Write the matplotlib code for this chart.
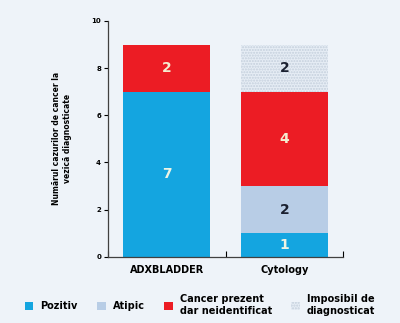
import matplotlib.pyplot as plt
import numpy as np
from matplotlib.patches import Patch

# Data
categories = ['ADXBLADDER', 'Cytology']
series_names = ['Pozitiv', 'Atipic', 'Cancer prezent\ndar neidentificat', 'Imposibil de\ndiagnosticat']
pozitiv = [7, 1]
atipic = [0, 2]
cancer = [2, 4]
imposibil = [0, 2]

colors = ['#14a5e0', '#b8cde6', '#ec1c24', '#e6edf5']
label_colors = ['#eef4e4', '#1a2030', '#f4ecd0', '#1a2030']
bg = '#eef3f9'

plt.rcParams['font.family'] = ['DejaVu Sans']

fig = plt.figure(figsize=(4.0, 3.23), dpi=100, facecolor=bg)
ax = fig.add_axes([0.27, 0.205, 0.588, 0.73])
ax.set_facecolor(bg)

x = np.arange(len(categories))
width = 0.74
bottom = np.zeros(len(categories))
for i, vals in enumerate([pozitiv, atipic, cancer, imposibil]):
    vals = np.array(vals)
    hatch = '......' if i == 3 else None
    ax.bar(x, vals, width, bottom=bottom, color=colors[i],
           edgecolor='#c4cfdc' if i == 3 else colors[i],
           linewidth=0, hatch=hatch)
    for j, v in enumerate(vals):
        if v > 0:
            ax.text(x[j], bottom[j] + v / 2, str(v), ha='center', va='center',
                    fontsize=10, fontweight='bold', color=label_colors[i])
    bottom += vals

ax.set_xlim(-0.5, 1.5)
ax.set_ylim(0, 10)
ax.set_yticks([0, 2, 4, 6, 8, 10])
ax.tick_params(axis='y', labelsize=5, length=3, width=0.8, pad=2)
for lbl in ax.get_yticklabels():
    lbl.set_fontweight('bold')
ax.set_xticks([-0.5, 0.5, 1.5], minor=True)
ax.set_xticks(x)
ax.set_xticklabels(categories, fontsize=7, fontweight='bold')
ax.tick_params(axis='x', which='major', length=0, pad=6)
ax.tick_params(axis='x', which='minor', length=4, width=0.8, direction='in')
for s in ['top', 'right']:
    ax.spines[s].set_visible(False)
for s in ['left', 'bottom']:
    ax.spines[s].set_color('#404040')
    ax.spines[s].set_linewidth(0.9)

ax.set_ylabel('Numărul cazurilor de cancer la\nvezică diagnosticate', fontsize=5.5,
              fontweight='bold', labelpad=14)

handles = [Patch(facecolor=c, edgecolor='none') for c in colors]
handles[3] = Patch(facecolor=colors[3], edgecolor='#c4cfdc', hatch='......', linewidth=0)
fig.legend(handles, series_names, loc='lower center', ncol=4, frameon=False,
           prop={'weight': 'bold', 'size': 7}, bbox_to_anchor=(0.5, -0.005),
           handlelength=0.9, handleheight=0.9, handletextpad=0.7, columnspacing=2.0)

fig.savefig('out.png', dpi=100, facecolor=bg)
